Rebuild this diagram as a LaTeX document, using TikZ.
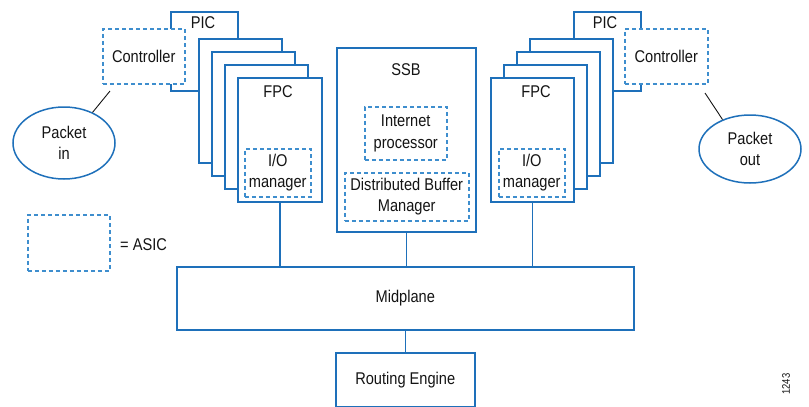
\documentclass[tikz,border=0pt]{standalone}
\usepackage{fontspec}
\setmainfont{Liberation Sans}[FakeStretch=0.86]
\usepackage{tikz}
\usetikzlibrary{shapes.geometric}

\definecolor{cardblue}{RGB}{30,112,186}
\definecolor{asicblue}{RGB}{62,142,206}
\definecolor{ink}{RGB}{20,20,20}

\tikzset{
  card/.style={draw=cardblue, fill=white, line width=1.5pt, anchor=north west, inner sep=0pt,
    text=ink, font=\fontsize{17}{21.5}\selectfont, align=center},
  asic/.style={card, draw=asicblue, dash pattern=on 4pt off 3pt},
  packet/.style={ellipse, draw=cardblue, fill=white, line width=1.5pt, inner sep=0pt,
    minimum width=102pt, text=ink, font=\fontsize{17}{21.5}\selectfont, align=center},
  tag/.style={text=ink, font=\fontsize{17}{21.5}\selectfont, inner sep=0pt},
  link/.style={draw=cardblue, line width=1.5pt},
  pointer/.style={draw=ink, line width=0.9pt}
}

\begin{document}
\begin{tikzpicture}[x=1pt, y=-1pt]
\useasboundingbox (0,0) rectangle (809,407);

% Draws the left card stack, PIC at the back and FPC in front
\node[card, minimum width=67pt, minimum height=79pt] (picL) at (170,11) {};
\node[tag] (picL-lbl) at (203,23) {PIC};
\node[asic, minimum width=82pt, minimum height=55pt] (ctlL) at (102,28) {Controller};
\foreach \k in {3,2,1} {
  \node[card, minimum width=83pt, minimum height=124pt] (cardL\k) at ({237-13*\k},{77-13*\k}) {};
}
\node[card, minimum width=84pt, minimum height=124pt] (fpcL) at (237,77) {};
\node[tag] (fpcL-lbl) at (278,92) {FPC};
\node[asic, minimum width=66pt, minimum height=48pt] (iomL) at (244,148) {I/O\\manager};

% Draws the right card stack, mirrored
\node[card, minimum width=67pt, minimum height=79pt] (picR) at (573,11) {};
\node[tag] (picR-lbl) at (605,23) {PIC};
\foreach \k in {3,2,1} {
  \node[card, minimum width=83pt, minimum height=124pt] (cardR\k) at ({490+13*\k},{77-13*\k}) {};
}
\node[asic, minimum width=83pt, minimum height=55pt] (ctlR) at (624,28) {Controller};
\node[card, minimum width=83pt, minimum height=124pt] (fpcR) at (490,77) {};
\node[tag] (fpcR-lbl) at (536,92) {FPC};
\node[asic, minimum width=66pt, minimum height=48pt] (iomR) at (498,148) {I/O\\manager};

% Draws the SSB with its two ASICs
\node[card, minimum width=139pt, minimum height=184pt] (ssb) at (336,47) {};
\node[tag] (ssb-lbl) at (406,70) {SSB};
\node[asic, minimum width=82pt, minimum height=53pt] (inetproc) at (364,106) {Internet\\processor};
\node[asic, minimum width=124pt, minimum height=48pt] (dbm) at (344,172) {Distributed Buffer\\Manager};

% Packets coming in and going out
\node[packet, minimum height=72pt] (pktin) at (64,143) {Packet\\in};
\node[packet, minimum height=68pt] (pktout) at (750,149) {Packet\\out};
\coordinate (ctlL-tip) at (110,91);
\coordinate (ctlR-tip) at (705,93);
\draw[pointer] (ctlL-tip) -- (pktin.47);
\draw[pointer] (ctlR-tip) -- (pktout.133);

% Midplane and Routing Engine
\node[card, minimum width=457pt, minimum height=63pt] (mid) at (176,266) {Midplane};
\node[card, minimum width=139pt, minimum height=54pt] (engine) at (335,352) {Routing Engine};

% Connects the boards to the midplane
\draw[link] (fpcL.south) -- (fpcL.south |- mid.north);
\draw[link] (ssb.south) -- (ssb.south |- mid.north);
\draw[link] (fpcR.south) -- (fpcR.south |- mid.north);
\draw[link] (mid.south) -- (engine.north);

% Legend and figure number
\node[asic, minimum width=82pt, minimum height=56pt] (legend) at (27,214) {};
\node[tag, anchor=west] (legend-lbl) at (120,245) {= ASIC};
\node[text=ink, font=\fontsize{11}{13}\selectfont, rotate=90, inner sep=0pt] (fignum) at (786,384) {1243};

\end{tikzpicture}
\end{document}
